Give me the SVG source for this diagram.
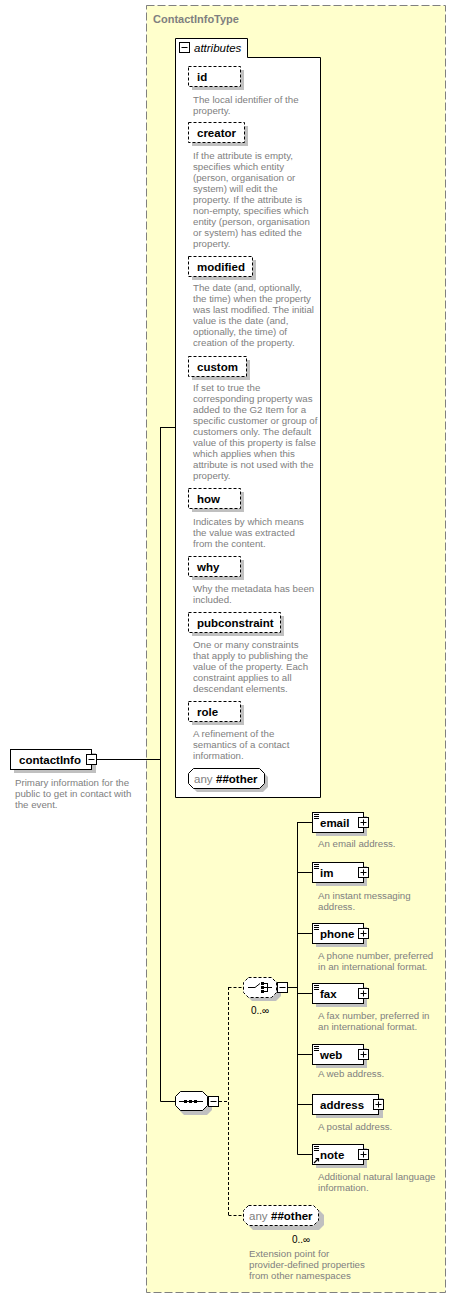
<svg xmlns="http://www.w3.org/2000/svg" width="456" height="1299" viewBox="0 0 456 1299">
<style>
.sh{fill:#c0c0c0;stroke:none}
.el{fill:#fff;stroke:#000;stroke-width:1}
.att{fill:#fff;stroke:#000;stroke-width:1;stroke-dasharray:3,2}
.opt{fill:#fff;stroke:#000;stroke-width:1;stroke-dasharray:3,2}
.lbl{font-family:"Liberation Sans",Arial,sans-serif;font-size:11.5px;font-weight:bold;fill:#000}
.desc{font-family:"Liberation Sans",Arial,sans-serif;font-size:9.7px;fill:#808080}
.anyt{font-family:"Liberation Sans",Arial,sans-serif;font-size:11.5px;fill:#808080}
.occ{font-family:"Liberation Sans",Arial,sans-serif;font-size:10px;fill:#000}
.pm rect{fill:#fff;stroke:#000;stroke-width:1}
.pm path{stroke:#000;stroke-width:1;fill:none}
.ic{stroke:#000;stroke-width:1;fill:none}
.con{stroke:#000;stroke-width:1;fill:none}
.dcon{stroke:#000;stroke-width:1;fill:none;stroke-dasharray:3,2}
</style>
<g id="ContactInfoType">
<rect x="146.5" y="5.5" width="299" height="1287" fill="#ffffcc" stroke="#808080" stroke-width="1" stroke-dasharray="8,3"/>
<text x="153" y="23" font-family="'Liberation Sans',Arial,sans-serif" font-size="11px" font-weight="bold" fill="#808080">ContactInfoType</text>
</g>
<g id="attributes">
<path d="M175.5 797.5V38.5H247.5V57.5H320.5V797.5Z" fill="#fff" stroke="#000" stroke-width="1"/>
<g class="pm"><rect x="179.5" y="42.5" width="10" height="10"/><path d="M181.5 47.5h6"/></g>
<text x="194" y="52" font-family="'Liberation Sans',Arial,sans-serif" font-size="11.5px" font-style="italic" fill="#000">attributes</text>
</g>
<g id="attr-id">
<rect class="sh" x="192" y="70" width="52" height="20"/><rect class="att" x="188.5" y="66.5" width="52" height="20"/>
<text class="lbl" x="197" y="80.5">id</text>
<text class="desc" x="193" y="102.5"><tspan x="193">The local identifier of the</tspan><tspan x="193" dy="11">property.</tspan></text>
</g>
<g id="attr-creator">
<rect class="sh" x="192" y="126" width="56" height="20"/><rect class="att" x="188.5" y="122.5" width="56" height="20"/>
<text class="lbl" x="197" y="136.5">creator</text>
<text class="desc" x="193" y="158.5"><tspan x="193">If the attribute is empty,</tspan><tspan x="193" dy="11">specifies which entity</tspan><tspan x="193" dy="11">(person, organisation or</tspan><tspan x="193" dy="11">system) will edit the</tspan><tspan x="193" dy="11">property. If the attribute is</tspan><tspan x="193" dy="11">non-empty, specifies which</tspan><tspan x="193" dy="11">entity (person, organisation</tspan><tspan x="193" dy="11">or system) has edited the</tspan><tspan x="193" dy="11">property.</tspan></text>
</g>
<g id="attr-modified">
<rect class="sh" x="192" y="260" width="64" height="20"/><rect class="att" x="188.5" y="256.5" width="64" height="20"/>
<text class="lbl" x="197" y="270.5">modified</text>
<text class="desc" x="193" y="291"><tspan x="193">The date (and, optionally,</tspan><tspan x="193" dy="11">the time) when the property</tspan><tspan x="193" dy="11">was last modified. The initial</tspan><tspan x="193" dy="11">value is the date (and,</tspan><tspan x="193" dy="11">optionally, the time) of</tspan><tspan x="193" dy="11">creation of the property.</tspan></text>
</g>
<g id="attr-custom">
<rect class="sh" x="192" y="360" width="58" height="20"/><rect class="att" x="188.5" y="356.5" width="58" height="20"/>
<text class="lbl" x="197" y="370.5">custom</text>
<text class="desc" x="193" y="391"><tspan x="193">If set to true the</tspan><tspan x="193" dy="11">corresponding property was</tspan><tspan x="193" dy="11">added to the G2 Item for a</tspan><tspan x="193" dy="11">specific customer or group of</tspan><tspan x="193" dy="11">customers only. The default</tspan><tspan x="193" dy="11">value of this property is false</tspan><tspan x="193" dy="11">which applies when this</tspan><tspan x="193" dy="11">attribute is not used with the</tspan><tspan x="193" dy="11">property.</tspan></text>
</g>
<g id="attr-how">
<rect class="sh" x="192" y="492" width="52" height="20"/><rect class="att" x="188.5" y="488.5" width="52" height="20"/>
<text class="lbl" x="197" y="502.5">how</text>
<text class="desc" x="193" y="524.5"><tspan x="193">Indicates by which means</tspan><tspan x="193" dy="11">the value was extracted</tspan><tspan x="193" dy="11">from the content.</tspan></text>
</g>
<g id="attr-why">
<rect class="sh" x="192" y="560" width="52" height="20"/><rect class="att" x="188.5" y="556.5" width="52" height="20"/>
<text class="lbl" x="197" y="570.5">why</text>
<text class="desc" x="193" y="591.5"><tspan x="193">Why the metadata has been</tspan><tspan x="193" dy="11">included.</tspan></text>
</g>
<g id="attr-pubconstraint">
<rect class="sh" x="192" y="616" width="92" height="20"/><rect class="att" x="188.5" y="612.5" width="92" height="20"/>
<text class="lbl" x="197" y="626.5">pubconstraint</text>
<text class="desc" x="193" y="648"><tspan x="193">One or many constraints</tspan><tspan x="193" dy="11">that apply to publishing the</tspan><tspan x="193" dy="11">value of the property. Each</tspan><tspan x="193" dy="11">constraint applies to all</tspan><tspan x="193" dy="11">descendant elements.</tspan></text>
</g>
<g id="attr-role">
<rect class="sh" x="192" y="705" width="52" height="20"/><rect class="att" x="188.5" y="701.5" width="52" height="20"/>
<text class="lbl" x="197" y="715.5">role</text>
<text class="desc" x="193" y="737"><tspan x="193">A refinement of the</tspan><tspan x="193" dy="11">semantics of a contact</tspan><tspan x="193" dy="11">information.</tspan></text>
</g>
<g id="attr-any">
<path class="sh" d="M197 772H263L268 777V787L263 792H197L192 787V777Z"/>
<path class="el" d="M193.5 768.5H259.5L264.5 773.5V783.5L259.5 788.5H193.5L188.5 783.5V773.5Z"/>
<text class="anyt" x="194" y="782.5">any</text><text class="lbl" x="216" y="782.5">##other</text>
</g>
<g id="contactInfo">
<rect class="sh" x="14" y="753" width="82" height="20"/><rect class="el" x="10.5" y="749.5" width="81" height="20"/>
<text class="lbl" x="19" y="764">contactInfo</text>
<g class="pm"><rect x="86.5" y="754.5" width="10" height="10"/><path d="M88.5 759.5h6"/></g>
<text class="desc" x="15" y="785.5"><tspan x="15">Primary information for the</tspan><tspan x="15" dy="11">public to get in contact with</tspan><tspan x="15" dy="11">the event.</tspan></text>
</g>
<g id="sequence">
<path class="sh" d="M184 1095H207L212 1100V1110L207 1115H184L179 1110V1100Z"/>
<path class="el" d="M180.5 1091.5H202.5L207.5 1096.5V1105.5L202.5 1110.5H180.5L175.5 1105.5V1096.5Z"/>
<path class="ic" d="M179 1101.5H203"/>
<rect x="184" y="1100" width="3" height="3" fill="#000"/><rect x="189" y="1100" width="3" height="3" fill="#000"/><rect x="194" y="1100" width="3" height="3" fill="#000"/>
<g class="pm"><rect x="208.5" y="1096.5" width="10" height="10"/><path d="M210.5 1101.5h6"/></g>
</g>
<g id="choice">
<path class="sh" d="M252 981H276L281 986V996L276 1001H252L247 996V986Z"/>
<path class="opt" d="M248.5 977.5H271.5L276.5 982.5V992.5L271.5 997.5H248.5L243.5 992.5V982.5Z"/>
<path class="ic" d="M248 987.5H255L260 983.5M264 983.5H267M264 987.5H272M264 991.5H267M267.5 983V992"/>
<rect x="261" y="982" width="3" height="3" fill="#000"/><rect x="261" y="986" width="3" height="3" fill="#000"/><rect x="261" y="990" width="3" height="3" fill="#000"/>
<g class="pm"><rect x="277.5" y="982.5" width="10" height="10"/><path d="M279.5 987.5h6"/></g>
<text class="occ" x="251" y="1014">0..∞</text>
</g>
<g id="email">
<rect class="sh" x="316" y="816" width="51" height="20"/><rect class="el" x="312.5" y="812.5" width="51" height="20"/>
<path class="ic" d="M314 814.5h5M314 816.5h5M314 818.5h5"/>
<text class="lbl" x="320" y="826.5">email</text>
<g class="pm"><rect x="358.5" y="817.5" width="10" height="10"/><path d="M360.5 822.5h6M363.5 819.5v6"/></g>
<text class="desc" x="318" y="847">An email address.</text>
</g>
<g id="im">
<rect class="sh" x="316" y="866" width="51" height="20"/><rect class="el" x="312.5" y="862.5" width="51" height="20"/>
<path class="ic" d="M314 864.5h5M314 866.5h5M314 868.5h5"/>
<text class="lbl" x="320" y="876.5">im</text>
<g class="pm"><rect x="358.5" y="867.5" width="10" height="10"/><path d="M360.5 872.5h6M363.5 869.5v6"/></g>
<text class="desc" x="318" y="898.5"><tspan x="318">An instant messaging</tspan><tspan x="318" dy="11">address.</tspan></text>
</g>
<g id="phone">
<rect class="sh" x="316" y="927" width="51" height="20"/><rect class="el" x="312.5" y="923.5" width="51" height="20"/>
<path class="ic" d="M314 925.5h5M314 927.5h5M314 929.5h5"/>
<text class="lbl" x="320" y="937.5">phone</text>
<g class="pm"><rect x="358.5" y="928.5" width="10" height="10"/><path d="M360.5 933.5h6M363.5 930.5v6"/></g>
<text class="desc" x="318" y="958.5"><tspan x="318">A phone number, preferred</tspan><tspan x="318" dy="11">in an international format.</tspan></text>
</g>
<g id="fax">
<rect class="sh" x="316" y="987" width="51" height="20"/><rect class="el" x="312.5" y="983.5" width="51" height="20"/>
<path class="ic" d="M314 985.5h5M314 987.5h5M314 989.5h5"/>
<text class="lbl" x="320" y="997.5">fax</text>
<g class="pm"><rect x="358.5" y="988.5" width="10" height="10"/><path d="M360.5 993.5h6M363.5 990.5v6"/></g>
<text class="desc" x="318" y="1018.5"><tspan x="318">A fax number, preferred in</tspan><tspan x="318" dy="11">an international format.</tspan></text>
</g>
<g id="web">
<rect class="sh" x="316" y="1048" width="51" height="20"/><rect class="el" x="312.5" y="1044.5" width="51" height="20"/>
<path class="ic" d="M314 1046.5h5M314 1048.5h5M314 1050.5h5"/>
<text class="lbl" x="320" y="1058.5">web</text>
<g class="pm"><rect x="358.5" y="1049.5" width="10" height="10"/><path d="M360.5 1054.5h6M363.5 1051.5v6"/></g>
<text class="desc" x="318" y="1077">A web address.</text>
</g>
<g id="address">
<rect class="sh" x="316" y="1098" width="67" height="20"/><rect class="el" x="312.5" y="1094.5" width="66" height="20"/>
<text class="lbl" x="320" y="1108.5">address</text>
<g class="pm"><rect x="373.5" y="1099.5" width="10" height="10"/><path d="M375.5 1104.5h6M378.5 1101.5v6"/></g>
<text class="desc" x="318" y="1130">A postal address.</text>
</g>
<g id="note">
<rect class="sh" x="316" y="1148" width="51" height="20"/><rect class="el" x="312.5" y="1144.5" width="51" height="20"/>
<path class="ic" d="M314 1146.5h5M314 1148.5h5M314 1150.5h5"/>
<path d="M314 1163L318 1159M315.5 1158.5H318.5V1161.5" stroke="#000" stroke-width="1.2" fill="none"/>
<text class="lbl" x="320" y="1158.5">note</text>
<g class="pm"><rect x="358.5" y="1149.5" width="10" height="10"/><path d="M360.5 1154.5h6M363.5 1151.5v6"/></g>
<text class="desc" x="318" y="1179.5"><tspan x="318">Additional natural language</tspan><tspan x="318" dy="11">information.</tspan></text>
</g>
<g id="any-other">
<path class="sh" d="M253 1210H319L324 1215V1225L319 1230H253L248 1225V1215Z"/>
<path class="opt" d="M248.5 1205.5H313.5L318.5 1210.5V1220.5L313.5 1225.5H248.5L243.5 1220.5V1210.5Z"/>
<text class="anyt" x="249" y="1219.5">any</text><text class="lbl" x="271" y="1219.5">##other</text>
<text class="occ" x="292" y="1243">0..∞</text>
<text class="desc" x="249" y="1257"><tspan x="249">Extension point for</tspan><tspan x="249" dy="11">provider-defined properties</tspan><tspan x="249" dy="11">from other namespaces</tspan></text>
</g>
<g id="connectors">
<path class="con" d="M97 759.5H160.5M160.5 427V1101.5M160.5 427.5H175M160.5 1101.5H175"/>
<path class="dcon" d="M219 1101.5H228.5M228.5 987V1215.5M228.5 987.5H243M228.5 1215.5H243"/>
<path class="con" d="M288 987.5H297.5M297.5 822V1154.5M297.5 822.5H312M297.5 872.5H312M297.5 933.5H312M297.5 993.5H312M297.5 1054.5H312M297.5 1104.5H312M297.5 1154.5H312"/>
</g>
</svg>
